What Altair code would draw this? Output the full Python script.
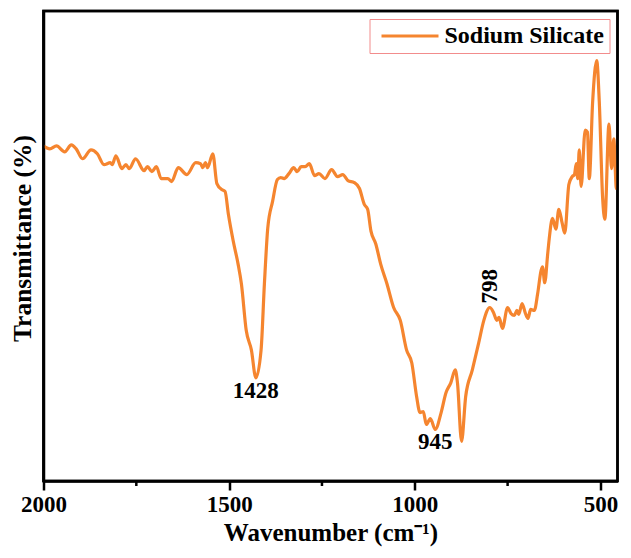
import altair as alt
import pandas as pd

# FTIR spectrum of sodium silicate
wavenumber = [2000, 1983, 1965, 1943, 1925, 1912, 1895, 1872, 1855, 1837, 1820, 1815, 1805, 1789,
              1778, 1769, 1752, 1729, 1720, 1708, 1696, 1683, 1665, 1655, 1637, 1614, 1590, 1577,
              1571, 1564, 1558, 1544, 1533, 1520, 1511, 1502, 1489, 1476, 1467, 1454, 1440, 1428,
              1414, 1405, 1396, 1383, 1370, 1361, 1352, 1339, 1326, 1317, 1306, 1295, 1284, 1270,
              1258, 1242, 1224, 1208, 1194, 1180, 1163, 1149, 1136, 1127, 1118, 1105, 1092, 1075,
              1057, 1039, 1022, 1008, 995, 986, 977, 969, 958, 945, 929, 916, 903, 891, 885, 874,
              863, 845, 828, 814, 798, 788, 779, 773, 764, 750, 741, 732, 725, 720, 711, 702, 695,
              688, 678, 669, 660, 656, 650, 642, 638, 629, 620, 612, 603, 596, 585, 576, 570, 565,
              561, 557, 552, 541, 535, 530, 521, 510, 503, 494, 488, 477, 470, 464, 457, 454]
transmittance = [73.8, 73.5, 73.8, 73.2, 73.9, 73.5, 72.5, 73.4, 73.0, 71.9, 72.1, 71.9, 72.8, 71.5,
                 71.9, 71.5, 72.5, 71.3, 71.7, 71.2, 71.7, 70.5, 70.5, 70.2, 71.6, 70.9, 72.1, 72.0,
                 71.6, 72.1, 71.6, 73.0, 70.0, 69.4, 69.2, 66.9, 64.2, 61.9, 59.9, 55.2, 53.2, 50.4,
                 53.2, 59.9, 65.5, 68.2, 70.4, 70.6, 70.5, 71.0, 71.6, 71.2, 71.7, 71.7, 72.0, 70.8,
                 71.0, 70.5, 71.4, 70.7, 70.9, 70.3, 70.1, 69.5, 67.9, 67.4, 65.2, 63.9, 61.9, 59.9,
                 57.5, 56.2, 53.2, 51.9, 48.5, 46.9, 47.0, 45.7, 46.3, 45.2, 46.9, 48.9, 49.9, 51.2,
                 49.9, 44.0, 48.5, 51.2, 53.9, 56.2, 57.5, 57.0, 56.2, 56.5, 55.4, 57.5, 56.9, 56.7,
                 57.2, 56.8, 57.9, 56.9, 56.4, 57.3, 57.2, 58.9, 61.2, 61.6, 60.0, 62.9, 64.4, 66.5,
                 65.4, 67.4, 66.0, 65.0, 69.9, 70.7, 70.9, 72.0, 70.5, 73.4, 69.7, 75.4, 75.2, 70.5,
                 78.2, 82.4, 78.2, 68.5, 66.4, 76.0, 71.5, 74.5, 69.5, 70.0]

series_name = "Sodium Silicate"

# peak annotations
peak_h_wn = [1428, 945]
peak_h_t = [50.4, 45.2]
peak_h_text = ["1428", "945"]
peak_v_wn = [798]
peak_v_t = [57.5]
peak_v_text = ["798"]

major_ticks = [2000, 1500, 1000, 500]
minor_ticks = [1750, 1250, 750]

# plot frame = full axis ranges
frame_wn = [2000]
frame_wn2 = [454]
frame_t = [40]
frame_t2 = [87.4]

ORANGE = "#f5852f"
FONT = "Liberation Serif, Times New Roman, serif"
W, H = 574, 470

df = pd.DataFrame({"wn": wavenumber, "t": transmittance, "series": series_name})
dh = pd.DataFrame({"wn": peak_h_wn, "t": peak_h_t, "label": peak_h_text})
dv = pd.DataFrame({"wn": peak_v_wn, "t": peak_v_t, "label": peak_v_text})
dminor = pd.DataFrame({"wn": minor_ticks})
dframe = pd.DataFrame({"x1": frame_wn, "x2": frame_wn2, "y1": frame_t, "y2": frame_t2})

xscale = alt.Scale(domain=[2000, 454], nice=False, zero=False)
yscale = alt.Scale(domain=[40, 87.4], nice=False, zero=False)

line = alt.Chart(df).mark_line(strokeWidth=3.2, clip=True, interpolate="monotone").encode(
    x=alt.X("wn:Q", scale=xscale,
            axis=alt.Axis(values=major_ticks, title="Wavenumber (cm⁻¹)", format="d",
                          labelFont=FONT, labelFontSize=23, labelFontWeight="bold", labelColor="black",
                          titleFont=FONT, titleFontSize=25, titleFontWeight="bold", titleColor="black",
                          titlePadding=4, labelPadding=3, tickSize=9, tickWidth=2.5, tickColor="black",
                          domainColor="black", domainWidth=2.5, grid=False, labelFlush=False,
                          labelOverlap=False)),
    y=alt.Y("t:Q", scale=yscale,
            axis=alt.Axis(title="Transmittance (%)", labels=False, ticks=False, grid=False,
                          domainColor="black", domainWidth=2.5,
                          titleFont=FONT, titleFontSize=25.5, titleFontWeight="bold", titleColor="black",
                          titleX=-21.5, titleY=227, titleBaseline="middle", titleAngle=270)),
    color=alt.Color("series:N", scale=alt.Scale(range=[ORANGE]),
                    legend=alt.Legend(title=None, orient="top-right", offset=8,
                                      strokeColor="#f28c8c", padding=5,
                                      fillColor="white", labelFont=FONT, labelFontWeight="bold",
                                      labelFontSize=24, labelColor="black",
                                      symbolType="M-1,0H10.4", symbolSize=100,
                                      symbolStrokeWidth=3, labelOffset=46)),
)

frame = alt.Chart(dframe).mark_rect(fill="transparent", stroke="black", strokeWidth=2.5).encode(
    x=alt.X("x1:Q", scale=xscale), x2="x2:Q",
    y=alt.Y("y1:Q", scale=yscale), y2="y2:Q",
)

minor = alt.Chart(dminor).mark_rule(color="black", strokeWidth=2.5).encode(
    x=alt.X("wn:Q", scale=xscale),
    y=alt.value(H),
    y2=alt.value(H + 5),
)

lab_h = alt.Chart(dh).mark_text(font=FONT, fontSize=23, fontWeight="bold", color="black",
                                baseline="middle", align="center", dy=13).encode(
    x=alt.X("wn:Q", scale=xscale), y=alt.Y("t:Q", scale=yscale), text="label:N")

lab_v = alt.Chart(dv).mark_text(font=FONT, fontSize=23, fontWeight="bold", color="black",
                                baseline="middle", align="left", angle=270, dx=4).encode(
    x=alt.X("wn:Q", scale=xscale), y=alt.Y("t:Q", scale=yscale), text="label:N")

chart = alt.layer(line, minor, lab_h, lab_v, frame).properties(
    width=W, height=H,
    autosize=alt.AutoSizeParams(type="none"),
    padding={"left": 35.5, "top": 3, "right": 4, "bottom": 68},
).configure(background="white").configure_view(
    stroke="black", strokeWidth=2.5
).configure_legend(strokeWidth=1)

chart.save("out.html", embed_options={"renderer": "svg", "actions": False})
